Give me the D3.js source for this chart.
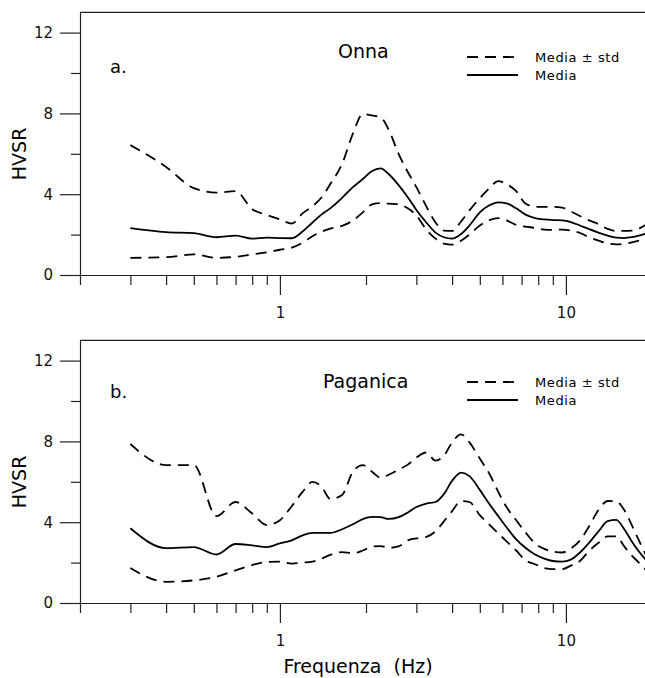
<!DOCTYPE html>
<html>
<head>
<meta charset="utf-8">
<script src="https://cdn.jsdelivr.net/npm/d3@7"></script>
<style>
  body { margin: 0; background: #fff; }
  svg { display: block; font-family: "DejaVu Sans", sans-serif; }
</style>
</head>
<body>
<svg id="chart"></svg>
<script>
// frequency samples (Hz)
const freq = [0.3, 0.4, 0.5, 0.6, 0.7, 0.8, 0.9, 1.0, 1.1, 1.2, 1.3, 1.4, 1.5, 1.65, 1.8, 1.95, 2.1, 2.25, 2.4,
  2.6, 2.8, 3.0, 3.25, 3.5, 3.75, 4.0, 4.3, 4.6, 5.0, 5.4, 5.8, 6.2, 6.7, 7.2, 7.8, 8.4, 9.0, 9.7, 10.4, 11.2,
  12, 13, 14, 15, 16, 17, 18, 19, 20];

// Onna
const onnaUpper = [6.43, 5.35, 4.3, 4.08, 4.15, 3.26, 2.97, 2.75, 2.55, 3.05, 3.4, 3.85, 4.5, 5.5, 7.0, 7.97, 7.9, 7.8, 7.2,
  6.0, 5.1, 4.35, 3.4, 2.6, 2.2, 2.18, 2.65, 3.2, 3.8, 4.3, 4.65, 4.5, 4.15, 3.55, 3.38, 3.37, 3.37, 3.33, 3.15, 2.92,
  2.72, 2.52, 2.28, 2.18, 2.18, 2.2, 2.3, 2.48, 2.65];
const onnaMedian = [2.32, 2.12, 2.07, 1.87, 1.95, 1.8, 1.85, 1.83, 1.82, 2.15, 2.6, 3.0, 3.3, 3.82, 4.35, 4.75, 5.15, 5.28, 5.0,
  4.45, 3.85, 3.22, 2.6, 2.1, 1.87, 1.8, 2.03, 2.45, 3.1, 3.45, 3.6, 3.55, 3.3, 3.0, 2.82, 2.75, 2.72, 2.7, 2.62, 2.45,
  2.28, 2.1, 1.95, 1.85, 1.83, 1.87, 1.95, 2.05, 2.15];
const onnaLower = [0.85, 0.88, 1.02, 0.85, 0.9, 1.02, 1.12, 1.25, 1.35, 1.6, 1.92, 2.15, 2.3, 2.43, 2.7, 3.1, 3.5, 3.56, 3.53,
  3.5, 3.3, 2.95, 2.25, 1.8, 1.55, 1.5, 1.7, 2.0, 2.45, 2.72, 2.82, 2.7, 2.48, 2.4, 2.33, 2.25, 2.23, 2.25, 2.2, 2.08,
  1.88, 1.7, 1.56, 1.52, 1.54, 1.62, 1.7, 1.78, 1.85];

// Paganica
const paganicaUpper = [7.87, 6.83, 6.83, 4.3, 5.0, 4.43, 3.86, 4.1, 4.79, 5.5, 6.0, 5.75, 5.15, 5.35, 6.5, 6.83, 6.5, 6.2, 6.35,
  6.6, 6.85, 7.2, 7.45, 7.05, 7.3, 7.95, 8.35, 7.95, 7.15, 6.4, 5.5, 4.75, 4.1, 3.52, 2.95, 2.68, 2.55, 2.5, 2.7, 3.1,
  3.75, 4.6, 5.05, 5.02, 4.6, 3.85, 3.1, 2.4, 1.9];
const paganicaMedian = [3.7, 2.72, 2.77, 2.4, 2.92, 2.85, 2.77, 2.95, 3.1, 3.35, 3.47, 3.47, 3.47, 3.65, 3.9, 4.15, 4.26, 4.25, 4.16,
  4.25, 4.48, 4.75, 4.92, 5.0, 5.4, 6.05, 6.45, 6.28, 5.6, 4.9, 4.3, 3.75, 3.15, 2.75, 2.4, 2.2, 2.08, 2.05, 2.15, 2.5,
  2.95, 3.55, 4.05, 4.12, 3.65, 3.05, 2.55, 2.15, 1.8];
const paganicaLower = [1.73, 1.05, 1.12, 1.3, 1.62, 1.88, 2.03, 2.05, 1.95, 2.0, 2.05, 2.2, 2.38, 2.52, 2.47, 2.6, 2.8, 2.82, 2.73,
  2.8, 3.1, 3.2, 3.27, 3.55, 4.05, 4.55, 5.05, 5.0, 4.35, 3.88, 3.45, 3.05, 2.6, 2.13, 1.92, 1.73, 1.68, 1.68, 1.85, 2.08,
  2.55, 2.98, 3.3, 3.3, 2.8, 2.35, 2.0, 1.65, 1.35];

// axes
const xMinorTicks = [0.2, 0.3, 0.4, 0.5, 0.6, 0.7, 0.8, 0.9, 2, 3, 4, 5, 6, 7, 8, 9, 20];
const xMajorTicks = [1, 10];
const yMinorTicks = [2, 6, 10];
const yMajorTicks = [0, 4, 8, 12];

class HvsrPanel {
  constructor(_config, _data) {
    this.config = {
      parentElement: _config.parentElement,
      top: _config.top,
      left: 80,
      width: 572,
      height: 262.6,
      letter: _config.letter,
      site: _config.site,
      siteX: _config.siteX,
      siteY: _config.siteY,
      legendY: _config.legendY,
      xTitle: _config.xTitle || null
    }
    this.data = _data;
    this.initVis();
  }

  initVis() {
    let vis = this;

    vis.chart = d3.select(vis.config.parentElement).append('g')
      .attr('transform', `translate(${vis.config.left},${vis.config.top})`);

    vis.xScale = d3.scaleLog().domain([0.2, 20]).range([0, vis.config.width]);
    vis.yScale = d3.scaleLinear().domain([0, 13]).range([vis.config.height, 0]);

    // frame top
    vis.chart.append('line')
      .attr('x1', vis.xScale(0.2)).attr('x2', vis.xScale(20))
      .attr('y1', vis.yScale(13)).attr('y2', vis.yScale(13))
      .attr('stroke', '#222').attr('stroke-width', 1.2);

    // x axis, minor ticks + major ticks
    vis.chart.append('g')
      .attr('transform', `translate(0,${vis.config.height})`)
      .call(d3.axisBottom(vis.xScale).tickValues(xMinorTicks).tickSize(10).tickSizeOuter(0).tickFormat(''));
    vis.chart.append('g')
      .attr('class', 'x-major')
      .attr('transform', `translate(0,${vis.config.height})`)
      .call(d3.axisBottom(vis.xScale).tickValues(xMajorTicks).tickSize(20).tickPadding(12).tickFormat(d3.format('d')))
      .call(g => g.select('.domain').remove());

    // y axis
    vis.chart.append('g')
      .call(d3.axisLeft(vis.yScale).tickValues(yMinorTicks).tickSize(9).tickSizeOuter(0).tickFormat(''));
    vis.chart.append('g')
      .call(d3.axisLeft(vis.yScale).tickValues(yMajorTicks).tickSize(20).tickPadding(7))
      .call(g => g.select('.domain').remove());

    vis.chart.selectAll('.tick line, .domain').attr('stroke', '#222').attr('stroke-width', 1.2);
    vis.chart.selectAll('.tick text')
      .attr('fill', '#111').attr('font-size', 15).attr('font-family', '"DejaVu Sans", sans-serif');

    vis.chart.append('text')
      .attr('transform', `translate(-54.5,141.5) rotate(-90)`)
      .attr('text-anchor', 'middle')
      .attr('font-size', 19)
      .text('HVSR');

    vis.chart.append('text')
      .attr('x', 30).attr('y', vis.config.legendY + 16.5)
      .attr('font-size', 18)
      .text(vis.config.letter);

    vis.chart.append('text')
      .attr('x', vis.config.siteX).attr('y', vis.config.siteY)
      .attr('font-size', 19)
      .text(vis.config.site);

    // legend
    let ly = vis.config.legendY;
    let legend = vis.chart.append('g');
    legend.append('line')
      .attr('x1', 387).attr('x2', 438).attr('y1', ly).attr('y2', ly)
      .attr('stroke', '#000').attr('stroke-width', 1.8).attr('stroke-dasharray', '11,7');
    legend.append('line')
      .attr('x1', 387).attr('x2', 438).attr('y1', ly + 18).attr('y2', ly + 18)
      .attr('stroke', '#000').attr('stroke-width', 1.8);
    legend.append('text')
      .attr('x', 455).attr('y', ly + 5)
      .attr('font-size', 13).attr('letter-spacing', 0.6)
      .text('Media \u00b1 std');
    legend.append('text')
      .attr('x', 455).attr('y', ly + 23)
      .attr('font-size', 13).attr('letter-spacing', 0.6)
      .text('Media');

    if (vis.config.xTitle) {
      vis.chart.append('text')
        .attr('x', 278).attr('y', 332.6)
        .attr('text-anchor', 'middle')
        .attr('font-size', 19)
        .attr('xml:space', 'preserve')
        .text(vis.config.xTitle);
    }

    vis.line = d3.line()
      .x((d, i) => vis.xScale(freq[i]))
      .y(d => vis.yScale(d))
      .curve(d3.curveMonotoneX);

    vis.renderVis();
  }

  renderVis() {
    let vis = this;

    vis.chart.selectAll('.series')
      .data(vis.data)
      .join('path')
      .attr('class', 'series')
      .attr('fill', 'none')
      .attr('stroke', '#000')
      .attr('stroke-width', 1.8)
      .attr('stroke-dasharray', d => d.dashed ? '11,7' : null)
      .attr('d', d => vis.line(d.values));
  }
}

d3.select('#chart').attr('width', 645).attr('height', 678);

new HvsrPanel({
  parentElement: '#chart', top: 12.4, letter: 'a.', site: 'Onna',
  siteX: 258, siteY: 45.6, legendY: 44.6
}, [
  {values: onnaUpper, dashed: true},
  {values: onnaMedian, dashed: false},
  {values: onnaLower, dashed: true}
]);

new HvsrPanel({
  parentElement: '#chart', top: 340.4, letter: 'b.', site: 'Paganica',
  siteX: 243, siteY: 47.6, legendY: 41.6, xTitle: 'Frequenza  (Hz)'
}, [
  {values: paganicaUpper, dashed: true},
  {values: paganicaMedian, dashed: false},
  {values: paganicaLower, dashed: true}
]);
</script>
</body>
</html>
